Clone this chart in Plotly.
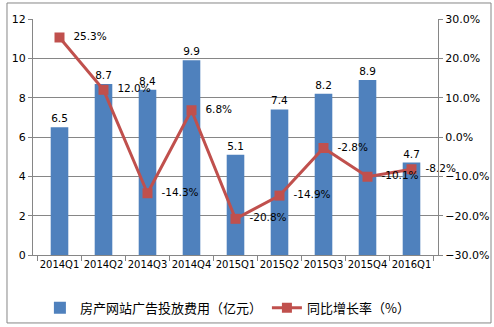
import plotly.graph_objects as go

quarters = ["2014Q1", "2014Q2", "2014Q3", "2014Q4", "2015Q1",
            "2015Q2", "2015Q3", "2015Q4", "2016Q1"]
ad_spend = [6.5, 8.7, 8.4, 9.9, 5.1, 7.4, 8.2, 8.9, 4.7]
yoy_growth = [25.3, 12.0, -14.3, 6.8, -20.8, -14.9, -2.8, -10.1, -8.2]

bar_name = "房产网站广告投放费用（亿元）"
line_name = "同比增长率（%）"

font_main = "DejaVu Sans, Verdana, sans-serif"
font_cjk = "Noto Sans CJK SC, sans-serif"

fig = go.Figure()
fig.add_trace(go.Bar(
    x=quarters, y=ad_spend, name=bar_name,
    marker=dict(color="#4F81BD", line=dict(width=0)),
    width=0.4,
    text=[f"{v:.1f}" for v in ad_spend], textposition="outside",
    textfont=dict(size=10.5, color="#000000", family=font_main),
    cliponaxis=False,
))
fig.add_trace(go.Scatter(
    x=quarters, y=yoy_growth, name=line_name, yaxis="y2",
    mode="lines+markers+text",
    line=dict(color="#C0504D", width=3),
    marker=dict(symbol="square", size=10, color="#C0504D"),
    text=[f"  {v:.1f}%" for v in yoy_growth], textposition="middle right",
    textfont=dict(size=10.5, color="#000000", family=font_main),
    cliponaxis=False,
))

fig.update_layout(
    width=494, height=327,
    margin=dict(l=33, r=56, t=19, b=72, autoexpand=False),
    paper_bgcolor="white", plot_bgcolor="white",
    font=dict(family=font_main, size=11, color="#000000"),
    showlegend=True,
    legend=dict(orientation="h", x=0.48, xanchor="center", y=-0.16, yanchor="top",
                font=dict(family=font_cjk, size=13), itemwidth=30,
                tracegroupgap=0, bgcolor="rgba(0,0,0,0)"),
    bargap=0.6,
    xaxis=dict(
        type="category", showgrid=False, showline=True, linecolor="#868686",
        ticks="outside", tickson="boundaries", ticklen=5, tickcolor="#868686",
        tickfont=dict(size=10), tickangle=0, automargin=False, zeroline=False,
    ),
    yaxis=dict(
        range=[0, 12], dtick=2, showgrid=True, gridcolor="#868686", gridwidth=1,
        showline=True, linecolor="#868686", ticks="outside", ticklen=4,
        tickcolor="#868686", zeroline=False, tickfont=dict(size=11),
        automargin=False,
    ),
    yaxis2=dict(
        range=[-30, 30], dtick=10, overlaying="y", side="right",
        tickformat=".1f", ticksuffix="%", showgrid=False,
        showline=True, linecolor="#868686", ticks="outside", ticklen=4,
        tickcolor="#868686", zeroline=False, tickfont=dict(size=11),
        automargin=False,
    ),
    shapes=[dict(type="rect", xref="paper", yref="paper",
                 x0=-0.0642, x1=1.1309, y0=-0.288, y1=1.0678,
                 line=dict(color="#868686", width=1), fillcolor="rgba(0,0,0,0)",
                 layer="above")],
)

fig.write_html("out.html")
